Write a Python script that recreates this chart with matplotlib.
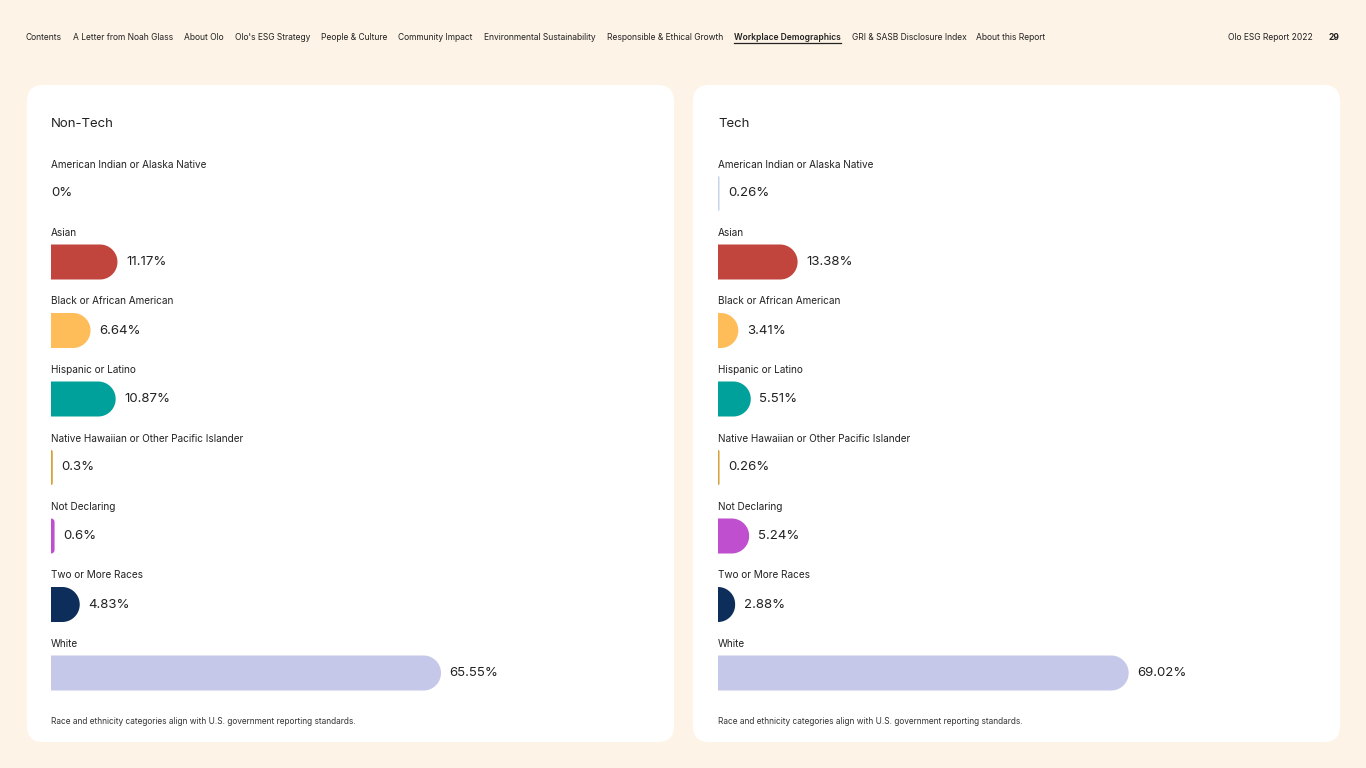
import matplotlib
matplotlib.use("Agg")
import numpy as np
import matplotlib.pyplot as plt
from matplotlib.patches import FancyBboxPatch, Polygon

plt.rcParams['font.family'] = ['Inter', 'DejaVu Sans']

categories = ["American Indian or Alaska Native", "Asian", "Black or African American",
              "Hispanic or Latino", "Native Hawaiian or Other Pacific Islander",
              "Not Declaring", "Two or More Races", "White"]
nontech = [0.0, 11.17, 6.64, 10.87, 0.3, 0.6, 4.83, 65.55]
tech = [0.26, 13.38, 3.41, 5.51, 0.26, 5.24, 2.88, 69.02]
nontech_labels = ["0%", "11.17%", "6.64%", "10.87%", "0.3%", "0.6%", "4.83%", "65.55%"]
tech_labels = ["0.26%", "13.38%", "3.41%", "5.51%", "0.26%", "5.24%", "2.88%", "69.02%"]
colors = ["#c8d8ea", "#c1443d", "#ffbd59", "#00a19b", "#d6a23c", "#c04fd0", "#0d2d5a", "#c5c8e8"]
nav = ["Contents", "A Letter from Noah Glass", "About Olo", "Olo's ESG Strategy", "People & Culture",
       "Community Impact", "Environmental Sustainability", "Responsible & Ethical Growth",
       "Workplace Demographics", "GRI & SASB Disclosure Index", "About this Report"]
nav_x = [26, 73, 184, 235, 321, 398, 484, 607, 734, 852, 976]
footnote = "Race and ethnicity categories align with U.S. government reporting standards."

W, H = 1366, 768
fig = plt.figure(figsize=(W/100, H/100), dpi=100)
fig.patch.set_facecolor("#fdf3e7")
bg = fig.add_axes([0, 0, 1, 1])
bg.set_xlim(0, W); bg.set_ylim(H, 0); bg.axis("off")
bg.patch.set_alpha(0)

for i, t in enumerate(nav):
    bold = t == "Workplace Demographics"
    bg.text(nav_x[i], 37, t, fontsize=6.1, va="center", color="#222",
            fontweight="semibold" if bold else "normal")
bg.plot([734, 841], [42.5, 42.5], color="#222", lw=0.9)
bg.text(1228, 37, "Olo ESG Report 2022", fontsize=6.1, va="center", color="#222")
bg.text(1329, 37, "29", fontsize=6.1, va="center", color="#222", fontweight="bold")

for x0 in (27, 693):
    bg.add_patch(FancyBboxPatch((x0, 85), 647, 657, boxstyle="round,pad=0,rounding_size=16",
                                fc="white", ec="none"))

PX = 5.95  # pixels per percent
def bar_poly(v, y0, h):
    r = min(h/2, v)
    t1 = np.linspace(-np.pi/2, 0, 20)
    t2 = np.linspace(0, np.pi/2, 20)
    cx = v - r
    top = np.column_stack([cx + r*np.cos(t1), y0 + r + r*np.sin(t1)])
    bot = np.column_stack([cx + r*np.cos(t2), y0 + h - r + r*np.sin(t2)])
    return np.vstack([[[0, y0]], top, bot, [[0, y0 + h]]])

def panel(x0, title, vals, labels):
    bg.text(x0, 124, title, fontsize=9.5, va="center", color="#222")
    bg.text(x0, 722, footnote, fontsize=6.0, va="center", color="#333")
    top, hgt, wid = 150, 560, 600
    ax = fig.add_axes([x0/W, 1-(top+hgt)/H, wid/W, hgt/H])
    ax.set_xlim(0, wid/PX); ax.set_ylim(hgt/PX, 0); ax.axis("off")
    u = lambda px: (px-top)/PX
    bh = 35/PX
    for i, (c, v, lab) in enumerate(zip(categories, vals, labels)):
        ly = 164.5 + 68.5*i
        by = 176 + 68.5*i
        ax.text(0, u(ly), c, fontsize=7.2, va="center", color="#222")
        if v > 0:
            ax.add_patch(Polygon(bar_poly(v, u(by), bh), closed=True, fc=colors[i], ec="none"))
            tx = v + 8.5/PX
        else:
            tx = 0
        ax.text(tx, u(by)+bh/2, lab, fontsize=9.5, va="center", color="#222")

panel(51, "Non-Tech", nontech, nontech_labels)
panel(718, "Tech", tech, tech_labels)
fig.savefig("out.png", dpi=100, facecolor=fig.get_facecolor())
